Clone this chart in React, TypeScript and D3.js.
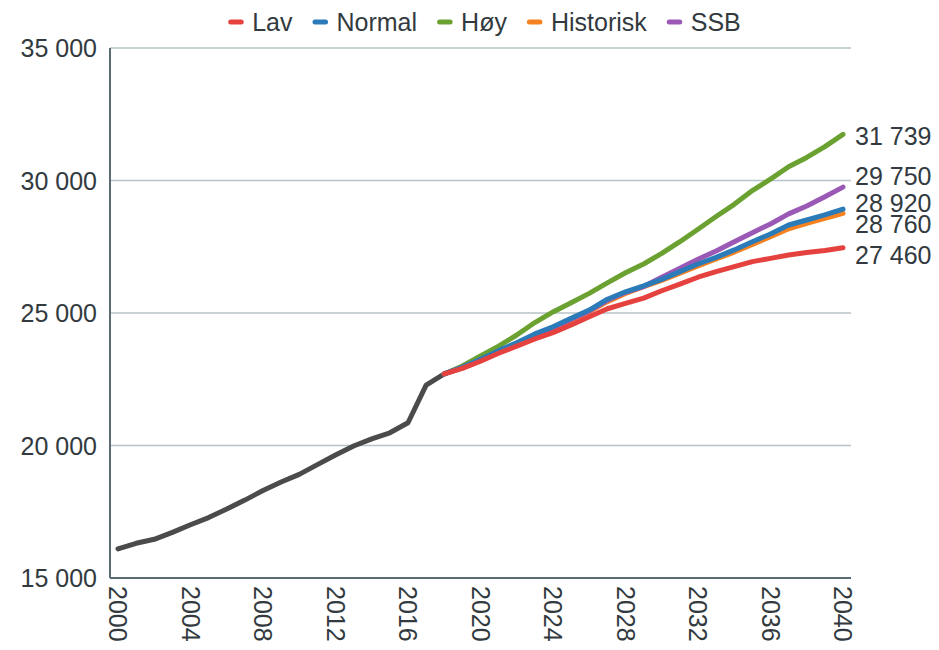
import React, { useEffect, useRef } from "react";
import * as d3 from "d3";

// historical series
const histYears = [2000, 2001, 2002, 2003, 2004, 2005, 2006, 2007, 2008, 2009, 2010, 2011, 2012, 2013, 2014, 2015, 2016, 2017, 2018];
const histValues = [16100, 16310, 16460, 16720, 17010, 17280, 17600, 17940, 18300, 18620, 18910, 19280, 19640, 19980, 20250, 20480, 20860, 22280, 22700];

// projections
const projYears = [2018, 2019, 2020, 2021, 2022, 2023, 2024, 2025, 2026, 2027, 2028, 2029, 2030, 2031, 2032, 2033, 2034, 2035, 2036, 2037, 2038, 2039, 2040];
const lav = [22700, 22910, 23180, 23480, 23750, 24020, 24260, 24550, 24860, 25160, 25360, 25560, 25840, 26090, 26350, 26560, 26750, 26940, 27060, 27190, 27280, 27360, 27460];
const normal = [22700, 22950, 23250, 23580, 23880, 24210, 24480, 24800, 25110, 25520, 25800, 26020, 26270, 26560, 26850, 27100, 27380, 27690, 27980, 28320, 28510, 28700, 28920];
const hoy = [22700, 23000, 23380, 23750, 24170, 24640, 25040, 25390, 25740, 26140, 26520, 26850, 27250, 27690, 28160, 28640, 29100, 29620, 30050, 30520, 30870, 31280, 31739];
const historisk = [22700, 22940, 23230, 23550, 23850, 24170, 24430, 24740, 25050, 25430, 25740, 25990, 26230, 26500, 26780, 27040, 27300, 27590, 27880, 28180, 28380, 28570, 28760];
const ssb = [22700, 22940, 23230, 23560, 23860, 24180, 24440, 24760, 25080, 25480, 25780, 26000, 26350, 26690, 27030, 27340, 27690, 28030, 28360, 28740, 29040, 29390, 29750];

const seriesNames = ["Lav", "Normal", "Høy", "Historisk", "SSB"];
const xTicks = [2000, 2004, 2008, 2012, 2016, 2020, 2024, 2028, 2032, 2036, 2040];
const yTicks = [15000, 20000, 25000, 30000, 35000];

const colors: Record<string, string> = {
  Lav: "#e5423f",
  Normal: "#2b7bb9",
  Høy: "#6aa131",
  Historisk: "#f5821f",
  SSB: "#9b59b6",
};
const histColor = "#4b4b4b";
const textColor = "#323a40";
const font = "'Liberation Sans', Arial, sans-serif";

const drawChart = (el: SVGSVGElement) => {
  const svg = d3.select(el);
  svg.selectAll("*").remove();

  const plot = { left: 110, right: 851, top: 48, bottom: 578 };
  const x = d3.scaleLinear().domain([2000, 2040]).range([118, 843]);
  const y = d3.scaleLinear().domain([15000, 35000]).range([plot.bottom, plot.top]);

  const fmt = d3.formatLocale({ decimal: ",", thousands: " ", grouping: [3], currency: ["", " kr"] }).format(",d");

  // gridlines
  svg.append("g")
    .selectAll("line")
    .data(yTicks.filter((t) => t > 15000))
    .join("line")
    .attr("x1", plot.left)
    .attr("x2", plot.right)
    .attr("y1", (d) => y(d))
    .attr("y2", (d) => y(d))
    .attr("stroke", "#b7c4c9")
    .attr("stroke-width", 1.5);

  // axes
  svg.append("line")
    .attr("x1", plot.left).attr("x2", plot.left)
    .attr("y1", plot.top).attr("y2", plot.bottom)
    .attr("stroke", "#5c6b73").attr("stroke-width", 2);
  svg.append("line")
    .attr("x1", plot.left).attr("x2", plot.right)
    .attr("y1", plot.bottom).attr("y2", plot.bottom)
    .attr("stroke", "#5c6b73").attr("stroke-width", 2);

  // y labels
  svg.append("g")
    .selectAll("text")
    .data(yTicks)
    .join("text")
    .attr("x", 97)
    .attr("y", (d) => y(d))
    .attr("dy", "0.36em")
    .attr("text-anchor", "end")
    .attr("font-family", font)
    .attr("font-size", 25)
    .attr("fill", textColor)
    .text((d) => fmt(d));

  // x labels, rotated (reading downwards)
  svg.append("g")
    .selectAll("text")
    .data(xTicks)
    .join("text")
    .attr("transform", (d) => `translate(${x(d)}, 586) rotate(90)`)
    .attr("dy", "0.36em")
    .attr("text-anchor", "start")
    .attr("font-family", font)
    .attr("font-size", 25)
    .attr("fill", textColor)
    .text((d) => String(d));

  const line = d3
    .line<[number, number]>()
    .x((d) => x(d[0]))
    .y((d) => y(d[1]));

  const drawLine = (xs: number[], vs: number[], color: string) => {
    svg.append("path")
      .datum(xs.map((yr, i) => [yr, vs[i]] as [number, number]))
      .attr("d", line)
      .attr("fill", "none")
      .attr("stroke", color)
      .attr("stroke-width", 5)
      .attr("stroke-linejoin", "round")
      .attr("stroke-linecap", "round");
  };

  drawLine(histYears, histValues, histColor);
  const byName: Record<string, number[]> = { Lav: lav, Normal: normal, Høy: hoy, Historisk: historisk, SSB: ssb };
  ["Høy", "Historisk", "SSB", "Normal", "Lav"].forEach((n) => drawLine(projYears, byName[n], colors[n]));

  // end labels (nudged apart where they would collide)
  const nudge: Record<string, number> = { Høy: 1.5, SSB: -11, Normal: -6, Historisk: 11, Lav: 7 };
  const last = projYears.length - 1;
  svg.append("g")
    .selectAll("text")
    .data(["Høy", "SSB", "Normal", "Historisk", "Lav"])
    .join("text")
    .attr("x", 855)
    .attr("y", (n) => y(byName[n][last]) + nudge[n])
    .attr("dy", "0.36em")
    .attr("font-family", font)
    .attr("font-size", 25)
    .attr("fill", textColor)
    .text((n) => fmt(byName[n][last]));

  // legend
  const legend = svg.append("g");
  let cx = 0;
  const items: { g: d3.Selection<SVGGElement, unknown, null, undefined>; w: number }[] = [];
  seriesNames.forEach((n) => {
    const g = legend.append("g");
    g.append("line")
      .attr("x1", 2.5).attr("x2", 13)
      .attr("y1", 0).attr("y2", 0)
      .attr("stroke", colors[n])
      .attr("stroke-width", 5)
      .attr("stroke-linecap", "round");
    const t = g.append("text")
      .attr("x", 24)
      .attr("dy", "0.36em")
      .attr("font-family", font)
      .attr("font-size", 25)
      .attr("fill", textColor)
      .text(n);
    const w = 24 + (t.node() as SVGTextElement).getComputedTextLength();
    items.push({ g, w });
  });
  items.forEach((it, i) => {
    it.g.attr("transform", `translate(${cx}, 0)`);
    cx += it.w + (i < items.length - 1 ? 20 : 0);
  });
  legend.attr("transform", `translate(${484.5 - cx / 2}, 22)`);
};

export default function App() {
  const ref = useRef<SVGSVGElement>(null);
  useEffect(() => {
    document.body.style.margin = "0";
    if (ref.current) drawChart(ref.current);
  }, []);

  return (
    <div>
      <svg ref={ref} width={939} height={650} style={{ display: "block", background: "#fff" }} />
    </div>
  );
}
